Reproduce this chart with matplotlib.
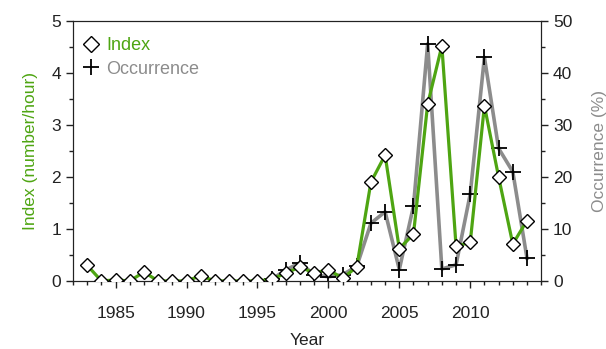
import matplotlib.pyplot as plt
from matplotlib.lines import Line2D
from matplotlib.ticker import MultipleLocator, FixedLocator

# data
years = list(range(1983, 2015))
index = [0.30, 0.0, 0.02, 0.0, 0.17, 0.0, 0.0, 0.0, 0.10, 0.0, 0.0, 0.0, 0.0,
         0.03, 0.15, 0.27, 0.15, 0.22, 0.05, 0.27, 1.90, 2.42, 0.62, 0.90,
         3.40, 4.52, 0.67, 0.74, 3.37, 2.00, 0.71, 1.16]
occ_years = list(range(1996, 2015))
occurrence = [0.3, 2.1, 3.5, 1.2, 0.8, 1.2, 2.8, 11.1, 13.3, 2.2, 14.4,
              45.6, 2.3, 3.1, 16.7, 43.0, 25.5, 21.0, 4.4]
year_ticks = [1985, 1990, 1995, 2000, 2005, 2010]

green = '#4ea512'
grey = '#8c8c8c'

plt.rcParams['font.family'] = ['Liberation Sans', 'DejaVu Sans']

fig = plt.figure(figsize=(6.06, 3.49), dpi=100)
ax1 = fig.add_axes([0.1205, 0.195, 0.7725, 0.745])
ax2 = ax1.twinx()
ax1.set_zorder(ax2.get_zorder() + 1)
ax1.patch.set_visible(False)

ax2.plot(occ_years, occurrence, color=grey, lw=2.6, zorder=2)
ax2.plot(occ_years, occurrence, ls='none', marker='+', ms=12, mew=1.3,
         color='black', zorder=3)
ax1.plot(years, index, color=green, lw=2.3, zorder=2)
ax1.plot(years, index, ls='none', marker='D', ms=7.5, mfc='white',
         mec='black', mew=1.0, zorder=3)

ax1.set_xlim(1982, 2015)
ax1.set_ylim(0, 5)
ax2.set_ylim(0, 50)

ax1.xaxis.set_major_locator(FixedLocator(year_ticks))
ax1.xaxis.set_minor_locator(MultipleLocator(1))
ax1.yaxis.set_major_locator(MultipleLocator(1))
ax1.yaxis.set_minor_locator(MultipleLocator(0.5))
ax2.yaxis.set_major_locator(MultipleLocator(10))
ax2.yaxis.set_minor_locator(MultipleLocator(5))

for a in (ax1, ax2):
    a.tick_params(which='major', direction='out', length=5, width=1,
                  labelsize=12.5, colors='#222222')
    a.tick_params(which='minor', direction='out', length=3, width=1,
                  colors='#222222')
    for s in a.spines.values():
        s.set_color('#222222')
ax1.tick_params(axis='x', pad=13)

ax1.set_xlabel('Year', fontsize=12.5, color='#222222', labelpad=9)
ax1.set_ylabel('Index (number/hour)', fontsize=12.5, color=green, labelpad=10)
ax2.set_ylabel('Occurrence (%)', fontsize=12.5, color=grey, labelpad=14)

handles = [Line2D([], [], ls='none', marker='D', ms=8, mfc='white',
                  mec='black', mew=1.0),
           Line2D([], [], ls='none', marker='+', ms=12, mew=1.3,
                  color='black')]
ax1.legend(handles, ['Index', 'Occurrence'], loc='upper left',
           bbox_to_anchor=(-0.016, 1.0),
           frameon=False, fontsize=13, labelcolor=[green, grey],
           handletextpad=0.35, borderaxespad=0.6, labelspacing=0.35,
           handlelength=1.0, borderpad=0.3)

fig.savefig('out.png', dpi=100)
